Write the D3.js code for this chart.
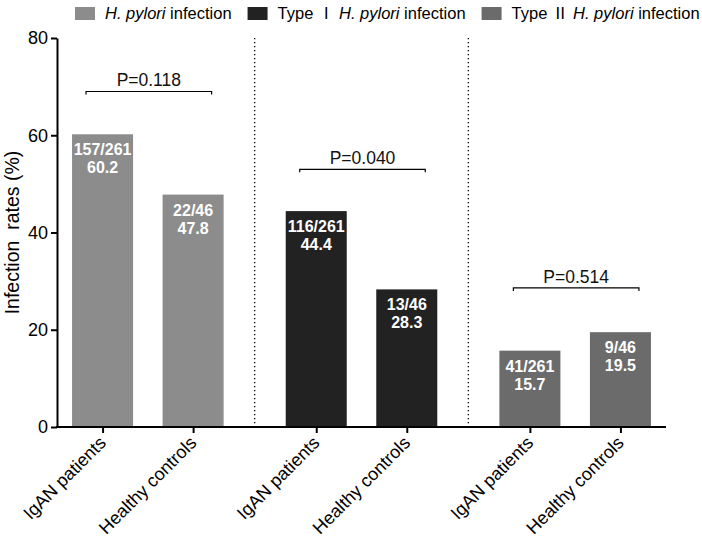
<!DOCTYPE html>
<html>
<head>
<meta charset="utf-8">
<script src="https://cdn.jsdelivr.net/npm/d3@7/dist/d3.min.js"></script>
<style>
  body { margin: 0; background: #fff; }
  text { font-family: "Liberation Sans", Arial, sans-serif; }
</style>
</head>
<body>
<div id="chart"></div>
<script>
var width = 702;
var height = 540;

var groups = ["H. pylori infection", "Type Ⅰ H. pylori infection", "Type Ⅱ H. pylori infection"];
var members = ["IgAN patients", "Healthy controls"];
var rates = [[60.2, 47.8], [44.4, 28.3], [15.7, 19.5]];
var counts = [["157/261", "22/46"], ["116/261", "13/46"], ["41/261", "9/46"]];
var pValues = ["P=0.118", "P=0.040", "P=0.514"];
var bracketLevels = [69, 53, 28.6];
var yTicks = [0, 20, 40, 60, 80];
var colors = ["#8c8c8c", "#222222", "#6b6b6b"];

var svg = d3.select("#chart")
  .append("svg")
  .attr("width", width)
  .attr("height", height);

var xGroup = d3.scaleBand()
  .domain(d3.range(groups.length))
  .range([41, 682]);

var xMember = d3.scaleBand()
  .domain(members)
  .range([0, xGroup.bandwidth()])
  .paddingInner(0.326)
  .paddingOuter(0.343);

var yScale = d3.scaleLinear()
  .domain([0, 80])
  .range([427, 38]);

function barX(g, m) { return xGroup(g) + xMember(m); }
function barCenter(g, m) { return barX(g, m) + xMember.bandwidth() / 2; }

// flat list of bars
var bars = [];
groups.forEach(function(name, g) {
  members.forEach(function(m, j) {
    bars.push({g: g, member: m, key: g + "-" + j, rate: rates[g][j], count: counts[g][j]});
  });
});

// dotted separators between groups
[1, 2].forEach(function(g) {
  var sx = (barCenter(g - 1, members[1]) + barCenter(g, members[0])) / 2;
  svg.append("line")
    .attr("x1", sx).attr("x2", sx)
    .attr("y1", yScale(80)).attr("y2", yScale(0))
    .attr("stroke", "#000")
    .attr("stroke-width", 1.3)
    .attr("stroke-dasharray", "1.3,2.7");
});

// bars
svg.selectAll("rect.bar")
  .data(bars)
  .enter()
  .append("rect")
    .attr("class", "bar")
    .attr("x", function(d) { return barX(d.g, d.member); })
    .attr("y", function(d) { return yScale(d.rate); })
    .attr("width", xMember.bandwidth())
    .attr("height", function(d) { return yScale(0) - yScale(d.rate); })
    .attr("fill", function(d) { return colors[d.g]; });

// labels inside bars
var lab = svg.selectAll("text.val")
  .data(bars)
  .enter()
  .append("text")
    .attr("class", "val")
    .attr("text-anchor", "middle")
    .attr("fill", "#fff")
    .attr("font-weight", "bold")
    .attr("font-size", 16);
lab.append("tspan")
  .attr("x", function(d) { return barCenter(d.g, d.member); })
  .attr("y", function(d) { return yScale(d.rate) + 21; })
  .text(function(d) { return d.count; });
lab.append("tspan")
  .attr("x", function(d) { return barCenter(d.g, d.member); })
  .attr("y", function(d) { return yScale(d.rate) + 39; })
  .text(function(d) { return d.rate.toFixed(1); });

// significance brackets
groups.forEach(function(name, g) {
  var x1 = barX(g, members[0]) + 14;
  var x2 = barX(g, members[1]) + xMember.bandwidth() - 12;
  var by = yScale(bracketLevels[g]);
  svg.append("path")
    .attr("d", "M" + x1 + "," + (by + 3) + "V" + by + "H" + x2 + "V" + (by + 3))
    .attr("fill", "none")
    .attr("stroke", "#000")
    .attr("stroke-width", 1.2);
  svg.append("text")
    .attr("x", (x1 + x2) / 2)
    .attr("y", by - 5)
    .attr("text-anchor", "middle")
    .attr("font-size", 17.5)
    .attr("fill", "#111")
    .text(pValues[g]);
});

// y axis
var yAxis = svg.append("g")
  .attr("transform", "translate(57,0)")
  .call(d3.axisLeft(yScale).tickValues(yTicks).tickSize(6).tickSizeOuter(0).tickPadding(3));
yAxis.selectAll("line, path").attr("stroke", "#000").attr("stroke-width", 2);
yAxis.selectAll("text").attr("font-size", 18).attr("fill", "#000")
  .style("font-family", "'Liberation Sans', Arial, sans-serif");

// x axis
var xCenters = d3.scaleOrdinal()
  .domain(bars.map(function(d) { return d.key; }))
  .range(bars.map(function(d) { return barCenter(d.g, d.member); }));

var xAxis = svg.append("g")
  .attr("transform", "translate(0," + yScale(0) + ")")
  .call(d3.axisBottom(xCenters)
    .tickSize(6)
    .tickSizeOuter(0)
    .tickFormat(function(k) { return members[+k.split("-")[1]]; }));
xAxis.select(".domain").remove();
xAxis.append("line")
  .attr("x1", 56).attr("x2", 666)
  .attr("stroke", "#000").attr("stroke-width", 2);
xAxis.selectAll(".tick line").attr("stroke", "#000").attr("stroke-width", 2);
xAxis.selectAll(".tick text")
  .attr("font-size", 18)
  .attr("fill", "#000")
  .attr("text-anchor", "end")
  .attr("dy", null)
  .attr("y", null)
  .attr("transform", "translate(4,17) rotate(-45)")
  .style("font-family", "'Liberation Sans', Arial, sans-serif");

// y axis title
svg.append("text")
  .attr("transform", "translate(19," + (yScale(40)) + ") rotate(-90)")
  .attr("text-anchor", "middle")
  .attr("font-size", 19.5)
  .attr("fill", "#000")
  .text("Infection  rates (%)")
  .style("white-space", "pre");

// legend
var lx = 75;
groups.forEach(function(name, g) {
  var item = svg.append("g").attr("transform", "translate(" + lx + ",0)");
  item.append("rect")
    .attr("x", 0).attr("y", 7)
    .attr("width", 20).attr("height", 13)
    .attr("fill", colors[g]);
  var t = item.append("text")
    .attr("x", 30).attr("y", 19)
    .attr("font-size", 16.5)
    .attr("fill", "#000")
    .style("white-space", "pre");
  var parts = name.split("H. pylori");
  if (parts[0].length) {
    var head = parts[0].trim().split(" ");
    t.append("tspan").text(head[0] + " ");
    t.append("tspan")
      .style("font-family", "'Noto Sans CJK SC', 'DejaVu Serif', serif")
      .text(head[1]);
    t.append("tspan").text(" ");
  }
  t.append("tspan").attr("font-style", "italic").text("H. pylori");
  t.append("tspan").text(parts[1]);
  lx += 30 + t.node().getComputedTextLength() + 16;
});
</script>
</body>
</html>
